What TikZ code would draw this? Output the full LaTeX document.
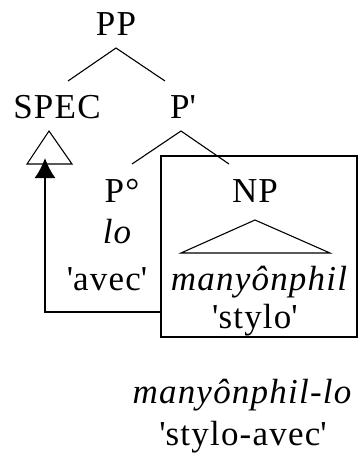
\documentclass[tikz,border=0pt]{standalone}
\usepackage{fontspec}
\setmainfont{Liberation Serif}[LetterSpace=3.5]
\usetikzlibrary{arrows.meta,positioning,calc}
\newcommand{\sq}[1]{\textquotesingle#1\textquotesingle}

\begin{document}
\begin{tikzpicture}[
  x=1pt, y=-1pt,
  label/.style={anchor=base, inner sep=0pt, font=\fontsize{35}{40}\selectfont},
  edge/.style={line width=1.1pt},
  tri/.style={line width=1.1pt, line join=miter},
  frame/.style={draw, line width=1.8pt, inner sep=0pt},
  move/.style={line width=1.8pt, -{Latex[length=20pt,width=21pt]}},
]
\useasboundingbox (0,0) rectangle (361,458);

% Tree labels
\node[label] (pp) at (116,35) {PP};
\node[label] (spec) at (57,118) {SPEC};
\node[label] (pbar) at (183,118) {P\textquotesingle};
\node[label] (phead) at (122,202) {P°};
\node[label] (lo) at (117,243) {\itshape lo};
\node[label] (avec) at (107,290) {\sq{avec}};
\node[label] (np) at (255,202) {NP};
\node[label] (noun) at (259,290) {\itshape manyônphil};
\node[label] (stylo) at (255,328) {\sq{stylo}};

% Compound below
\node[label] (compound) at (242,403) {\itshape manyônphil-lo};
\node[label] (gloss) at (243,445) {\sq{stylo-avec}};

% Branch points
\coordinate (ppfork) at (116,48);
\coordinate (specarm) at (68,81);
\coordinate (pbararm) at (165,81);
\coordinate (pbarfork) at (181,131);
\coordinate (pheadarm) at (132,164);
\coordinate (nparm) at (229,164);

\draw[edge] (specarm) -- (ppfork) -- (pbararm);
\draw[edge] (pheadarm) -- (pbarfork) -- (nparm);

% Empty SPEC and NP triangles
\coordinate (spectop) at (49,131);
\draw[tri] (spectop) -- (27,164) -- (72,164) -- cycle;
\coordinate (nptop) at (255,220);
\draw[tri] (nptop) -- (181,253) -- (330,253) -- cycle;

% Box round the moved NP
\node[frame, minimum width=196pt, minimum height=181pt] (npbox) at (259,246.5) {};

% Movement to SPEC
\coordinate (movetip) at (45,158);
\coordinate (moveout) at (161,312);
\draw[move] (moveout) -| (movetip);

\end{tikzpicture}
\end{document}
